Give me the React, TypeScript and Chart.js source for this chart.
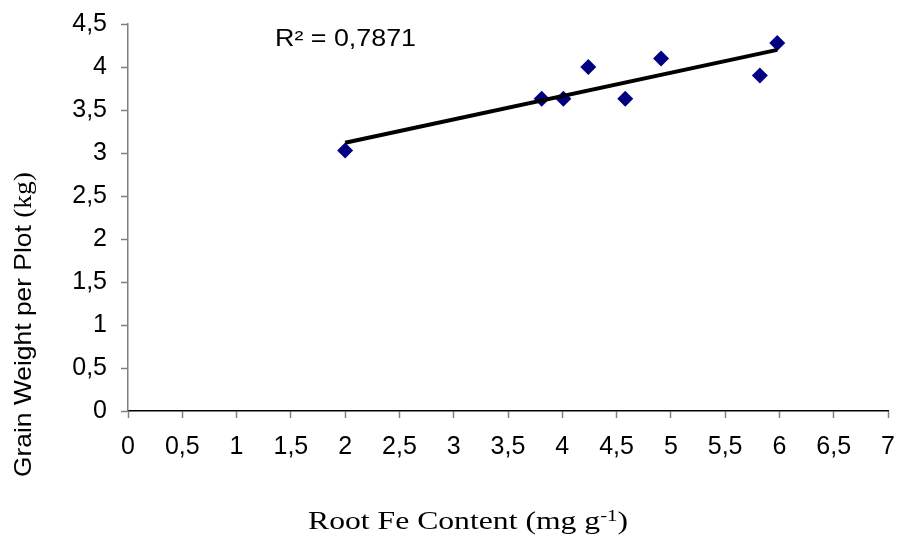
import React, { useEffect, useRef } from "react";
import { Chart, registerables } from "chart.js";

Chart.register(...registerables);

// ---- data ----
const rootFe = [2.0, 3.81, 4.01, 4.24, 4.58, 4.91, 5.82, 5.98];
const grainWeight = [3.03, 3.63, 3.63, 4.0, 3.63, 4.1, 3.9, 4.28];
const xRange = [0, 7];
const yRange = [0, 4.5];
const tickStep = 0.5;
const xTitleMain = "Root Fe Content (mg g";
const xTitleSup = "-1";
const xTitleEnd = ")";
const yTitleMain = "Grain Weight per Plot ";
const yTitleUnit = "(kg)";
const rSquaredLabel = "R² = 0,7871";

const SANS = "'Liberation Sans', Arial, sans-serif";
const SERIF = "'Liberation Serif', 'Times New Roman', serif";

function linearFit(xs: number[], ys: number[]) {
  const n = xs.length;
  const mx = xs.reduce((a, b) => a + b, 0) / n;
  const my = ys.reduce((a, b) => a + b, 0) / n;
  let sxy = 0;
  let sxx = 0;
  for (let i = 0; i < n; i++) {
    sxy += (xs[i] - mx) * (ys[i] - my);
    sxx += (xs[i] - mx) * (xs[i] - mx);
  }
  const slope = sxy / sxx;
  const intercept = my - slope * mx;
  return { slope, intercept };
}

const fmt = (v: number | string) => String(v).replace(".", ",");

type Part = { text: string; font: string; dy?: number };

function drawParts(
  ctx: CanvasRenderingContext2D,
  parts: Part[],
  targetWidth: number
) {
  let total = 0;
  const widths: number[] = [];
  parts.forEach((p) => {
    ctx.font = p.font;
    const w = ctx.measureText(p.text).width;
    widths.push(w);
    total += w;
  });
  const s = targetWidth / total;
  ctx.scale(s, 1);
  let x = 0;
  parts.forEach((p, i) => {
    ctx.font = p.font;
    ctx.fillText(p.text, x, p.dy || 0);
    x += widths[i];
  });
}

const textPlugin = {
  id: "customTexts",
  afterDraw(chart: Chart) {
    const ctx = chart.ctx;
    ctx.save();
    ctx.fillStyle = "#000";
    ctx.textAlign = "left";
    ctx.textBaseline = "alphabetic";

    // R² label
    ctx.save();
    ctx.translate(275, 46);
    drawParts(ctx, [{ text: rSquaredLabel, font: `23px ${SANS}` }], 141);
    ctx.restore();

    // x title
    ctx.save();
    ctx.translate(308, 529);
    drawParts(
      ctx,
      [
        { text: xTitleMain, font: `26px ${SERIF}` },
        { text: xTitleSup, font: `17px ${SERIF}`, dy: -8 },
        { text: xTitleEnd, font: `26px ${SERIF}` },
      ],
      320
    );
    ctx.restore();

    // y title
    ctx.save();
    ctx.translate(31, 477);
    ctx.rotate(-Math.PI / 2);
    drawParts(
      ctx,
      [
        { text: yTitleMain, font: `24px ${SANS}` },
        { text: yTitleUnit, font: `25px ${SERIF}` },
      ],
      305
    );
    ctx.restore();

    ctx.restore();
  },
};

const zeroPad = (s: any) => {
  s.paddingTop = 0;
  s.paddingBottom = 0;
  s.paddingLeft = 0;
  s.paddingRight = 0;
};

export default function App() {
  const canvasRef = useRef<HTMLCanvasElement | null>(null);

  useEffect(() => {
    if (!canvasRef.current) return;
    const fit = linearFit(rootFe, grainWeight);
    const minX = Math.min(...rootFe);
    const maxX = Math.max(...rootFe);
    const trend = [
      { x: minX, y: fit.intercept + fit.slope * minX },
      { x: maxX, y: fit.intercept + fit.slope * maxX },
    ];
    const points = rootFe.map((x, i) => ({ x, y: grainWeight[i] }));

    const chart = new Chart(canvasRef.current, {
      type: "scatter",
      data: {
        datasets: [
          {
            type: "line",
            label: "trend",
            data: trend,
            borderColor: "#000",
            borderWidth: 4,
            pointRadius: 0,
            fill: false,
            order: 0,
          } as any,
          {
            label: "data",
            data: points,
            pointStyle: "rectRot",
            pointRadius: 8,
            pointBackgroundColor: "#000080",
            pointBorderColor: "#000080",
            pointBorderWidth: 0,
            order: 1,
          } as any,
        ],
      },
      options: {
        responsive: false,
        animation: false,
        layout: { padding: { top: 24, right: 12, left: 0, bottom: 0 } },
        plugins: {
          legend: { display: false },
          tooltip: { enabled: false },
        },
        scales: {
          x: {
            type: "linear",
            min: xRange[0],
            max: xRange[1],
            ticks: {
              stepSize: tickStep,
              autoSkip: false,
              maxRotation: 0,
              color: "#000",
              padding: 14,
              font: { size: 25, family: SANS },
              callback: (v: any) => fmt(v),
            },
            grid: {
              drawOnChartArea: false,
              drawTicks: true,
              tickLength: 7,
              tickColor: "#808080",
              tickWidth: 1.5,
            },
            border: { color: "#000", width: 1.5 },
            afterFit: (s: any) => {
              s.height = 125;
              zeroPad(s);
            },
          },
          y: {
            type: "linear",
            min: yRange[0],
            max: yRange[1],
            ticks: {
              stepSize: tickStep,
              autoSkip: false,
              color: "#000",
              padding: 14,
              font: { size: 25, family: SANS },
              callback: (v: any) => fmt(v),
            },
            grid: {
              drawOnChartArea: false,
              drawTicks: true,
              tickLength: 7,
              tickColor: "#808080",
              tickWidth: 1.5,
            },
            border: { color: "#808080", width: 1.5 },
            afterFit: (s: any) => {
              s.width = 128;
              zeroPad(s);
            },
          },
        },
      } as any,
      plugins: [textPlugin],
    });
    return () => chart.destroy();
  }, []);

  return (
    <div
      style={{
        position: "absolute",
        left: 0,
        top: 0,
        width: 900,
        height: 536,
        background: "#fff",
      }}
    >
      <canvas
        ref={canvasRef}
        width={900}
        height={536}
        style={{ display: "block", width: 900, height: 536 }}
      />
    </div>
  );
}
